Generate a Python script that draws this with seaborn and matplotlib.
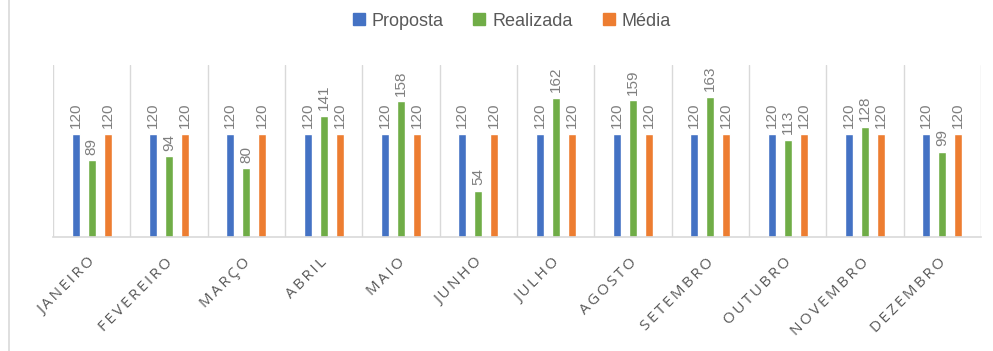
import matplotlib
matplotlib.use("Agg")
import matplotlib.pyplot as plt
import matplotlib.transforms as mtransforms
import seaborn as sns
import pandas as pd
from matplotlib.lines import Line2D

meses = ["JANEIRO", "FEVEREIRO", "MARÇO", "ABRIL", "MAIO", "JUNHO",
         "JULHO", "AGOSTO", "SETEMBRO", "OUTUBRO", "NOVEMBRO", "DEZEMBRO"]
proposta = [120, 120, 120, 120, 120, 120, 120, 120, 120, 120, 120, 120]
realizada = [89, 94, 80, 141, 158, 54, 162, 159, 163, 113, 128, 99]
media = [120, 120, 120, 120, 120, 120, 120, 120, 120, 120, 120, 120]
series = ["Proposta", "Realizada", "Média"]
cores = ["#4472C4", "#70AD47", "#ED7D31"]

df = pd.DataFrame({
    "mes": meses * 3,
    "serie": [series[0]] * 12 + [series[1]] * 12 + [series[2]] * 12,
    "valor": proposta + realizada + media,
})

sns.set_theme(style="white")
plt.rcParams["font.family"] = ["Open Sans", "DejaVu Sans"]

fig = plt.figure(figsize=(9.93, 3.51), dpi=100)
ax = fig.add_axes([53 / 993, 1 - 237 / 351, 928 / 993, 172 / 351])

sns.barplot(data=df, x="mes", y="valor", hue="serie", hue_order=series,
            palette=cores, width=0.62, gap=0.5, ax=ax, legend=False,
            saturation=1, errorbar=None)

for cont in ax.containers:
    ax.bar_label(cont, labels=[f"{v:.0f}" for v in cont.datavalues],
                 rotation=90, padding=4, color="#7F7F7F", fontsize=11,
                 family=["Liberation Sans", "DejaVu Sans"])

ax.set_ylim(0, 200)
ax.set_xlim(-0.5, len(meses) - 0.5)
ax.set_yticks([])
ax.set_xlabel("")
ax.set_ylabel("")

# vertical separators between months
for b in range(len(meses) + 1):
    ax.axvline(b - 0.5, color="#D9D9D9", lw=1.0, zorder=0)

for s in ["top", "right", "left"]:
    ax.spines[s].set_visible(False)
ax.spines["bottom"].set_color("#D9D9D9")
ax.spines["bottom"].set_linewidth(1.2)

# letter-spaced month names (thin spaces between letters)
ax.set_xticks(range(len(meses)))
ax.set_xticklabels(["\u2009".join(m) for m in meses], rotation=45, ha="right",
                   rotation_mode="anchor", color="#595959", fontsize=11)
ax.tick_params(axis="x", length=0, pad=13)
shift = mtransforms.ScaledTranslation(-4 / 100, 0, fig.dpi_scale_trans)
for lbl in ax.get_xticklabels():
    lbl.set_transform(lbl.get_transform() + shift)

handles = [Line2D([0], [0], marker="s", color="none", markerfacecolor=c,
                  markeredgecolor=c, markersize=8.5) for c in cores]
fig.legend(handles, series, loc="center", bbox_to_anchor=(511 / 993, 1 - 21 / 351),
           ncol=3, frameon=False, labelcolor="#595959",
           handlelength=0.8, handletextpad=0.3, columnspacing=1.6,
           prop={"family": ["Liberation Sans", "DejaVu Sans"], "size": 13})

# chart frame edge on the left
fig.add_artist(Line2D([8.5 / 993, 8.5 / 993], [0, 1], color="#D9D9D9", lw=1.2,
                      transform=fig.transFigure))

fig.savefig("out.png", dpi=100)
